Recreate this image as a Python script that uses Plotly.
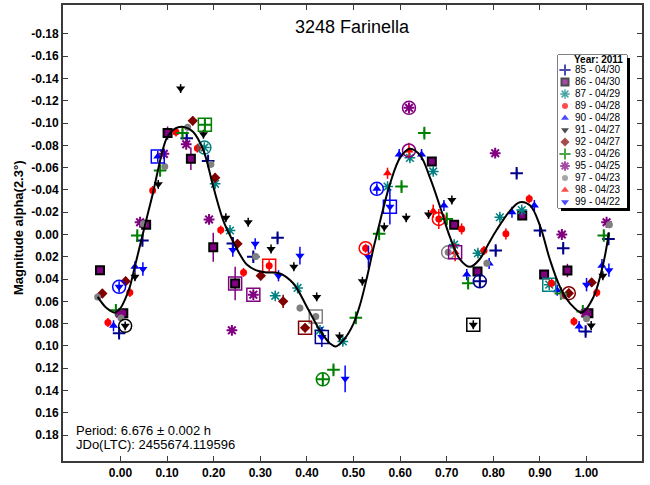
import plotly.graph_objects as go

W, H = 650, 485
FONT = "Arial, Liberation Sans, sans-serif"

# ---------------- session data (phase, magnitude, error) ----------------
ph_85 = [-0.003, 0.047, 0.142, 0.188, 0.241, 0.285, 0.337, 0.771, 0.805, 0.85, 0.90, 0.95, 0.998, 1.047]
mag_85 = [0.0886, 0.0054, -0.0865, -0.066, 0.008, 0.020, 0.003, 0.042, 0.0144, -0.055, -0.0036, 0.0123, 0.087, 0.004]
err_85 = [0.004, 0.004, 0.004, 0.004, 0.005, 0.004, 0.004, 0.005, 0.004, 0.004, 0.004, 0.004, 0.004, 0.004]

ph_86 = [-0.044, 0.006, 0.055, 0.101, 0.151, 0.199, 0.246, 0.668, 0.716, 0.766, 0.862, 0.909, 0.959, 1.004]
mag_86 = [0.032, 0.0706, -0.0087, -0.091, -0.068, 0.0114, 0.044, -0.0655, -0.0087, 0.0332, -0.017, 0.036, 0.0323, 0.0706]
err_86 = [0.004, 0.004, 0.004, 0.006, 0.010, 0.013, 0.015, 0.003, 0.003, 0.003, 0.003, 0.004, 0.006, 0.004]

ph_87 = [0.18, 0.203, 0.235, 0.332, 0.38, 0.428, 0.477, 0.573, 0.621, 0.671, 0.716, 0.767, 0.814, 0.861, 0.92]
mag_87 = [-0.078, -0.0455, -0.0036, 0.055, 0.048, 0.086, 0.096, -0.043, -0.0688, -0.0566, 0.009, 0.0168, -0.0155, -0.022, 0.045]
err_87 = [0.003] * 15

ph_89 = [-0.027, 0.02, 0.069, 0.119, 0.165, 0.215, 0.264, 0.319, 0.526, 0.683, 0.732, 0.78, 0.827, 0.877, 0.925, 0.973, 1.022]
mag_89 = [0.079, 0.052, -0.0395, -0.092, -0.0775, -0.004, 0.034, 0.028, 0.0123, -0.014, -0.005, 0.0144, -0.0006, -0.032, 0.0437, 0.078, 0.052]
err_89 = [0.004, 0.004, 0.004, 0.004, 0.004, 0.004, 0.004, 0.005, 0.004, 0.009, 0.005, 0.004, 0.005, 0.004, 0.004, 0.004, 0.004]

ph_90 = [-0.015, 0.031, 0.08, 0.55, 0.598, 0.646, 0.694, 0.743, 0.791, 0.84, 0.888, 0.937, 0.984, 1.033]
mag_90 = [0.082, 0.029, -0.070, -0.041, -0.0718, -0.0718, -0.026, 0.036, 0.026, -0.020, -0.026, 0.050, 0.0826, 0.028]
err_90 = [0.005, 0.005, 0.005, 0.005, 0.005, 0.005, 0.005, 0.005, 0.005, 0.005, 0.005, 0.005, 0.005, 0.006]

ph_91 = [0.01, 0.031, 0.081, 0.129, 0.178, 0.226, 0.274, 0.323, 0.372, 0.421, 0.47, 0.519, 0.566, 0.613, 0.661, 0.711, 0.757, 1.01, 1.035]
mag_91 = [0.082, 0.038, -0.045, -0.131, -0.090, -0.015, -0.011, 0.013, 0.029, 0.056, 0.0916, 0.042, -0.0066, -0.015, -0.018, -0.031, 0.081, 0.0817, 0.037]
err_91 = [0.004] * 19

ph_92 = [-0.039, 0.011, 0.155, 0.203, 0.251, 0.301, 0.349, 0.396, 0.962, 1.011]
mag_92 = [0.053, 0.042, -0.102, -0.051, 0.0084, 0.037, 0.060, 0.0838, 0.0527, 0.043]
err_92 = [0.004, 0.004, 0.004, 0.004, 0.004, 0.004, 0.006, 0.004, 0.004, 0.004]

ph_93 = [-0.01, 0.036, 0.085, 0.133, 0.181, 0.434, 0.457, 0.505, 0.555, 0.603, 0.652, 0.70, 0.746, 0.945, 0.992, 1.037]
mag_93 = [0.068, 0.001, -0.0575, -0.091, -0.0985, 0.130, 0.1215, 0.0748, -0.0006, -0.043, -0.091, -0.014, 0.0437, 0.053, 0.069, 0.0009]
err_93 = [0.004] * 16

ph_95 = [-0.001, 0.042, 0.093, 0.141, 0.19, 0.239, 0.285, 0.619, 0.804, 0.947, 0.997, 1.043]
mag_95 = [0.071, -0.011, -0.0724, -0.081, -0.0135, 0.086, 0.054, -0.1137, -0.073, 0.0, 0.0706, -0.011]
err_95 = [0.003] * 12

ph_97 = [-0.049, 0.001, 0.049, 0.095, 0.144, 0.194, 0.29, 0.385, 0.419, 0.703, 0.786, 0.95, 1.0, 1.049]
mag_97 = [0.056, 0.075, -0.0096, -0.061, -0.0963, -0.063, 0.0197, 0.066, 0.0736, 0.016, 0.0257, 0.055, 0.0757, -0.0087]
err_97 = [0.003] * 14

ph_98 = [0.573, 0.619, 0.671, 0.718]
mag_98 = [-0.055, -0.0754, -0.021, 0.016]
err_98 = [0.005, 0.007, 0.006, 0.008]

ph_99 = [-0.003, 0.048, 0.241, 0.289, 0.339, 0.385, 0.432, 0.482, 0.532, 0.578, 1.0, 1.048]
mag_99 = [0.047, 0.031, 0.014, 0.0084, 0.037, 0.019, 0.092, 0.1295, 0.020, -0.025, 0.045, 0.032]
err_99 = [0.005, 0.006, 0.006, 0.005, 0.005, 0.008, 0.009, 0.012, 0.010, 0.016, 0.006, 0.006]

# first point of each night, ringed
hl_session = ["91", "99", "90", "87", "93", "86", "95", "89", "97", "92", "99", "93",
              "89", "90", "99", "95", "98", "89", "97", "98", "91", "85", "87", "92"]
hl_phase = [0.01, -0.003, 0.08, 0.18, 0.181, 0.246, 0.285, 0.319, 0.419, 0.396, 0.432, 0.434,
            0.526, 0.55, 0.578, 0.619, 0.619, 0.683, 0.703, 0.718, 0.757, 0.771, 0.92, 0.962]
hl_mag = [0.082, 0.047, -0.070, -0.078, -0.0985, 0.044, 0.054, 0.028, 0.0736, 0.0838, 0.092, 0.130,
          0.0123, -0.041, -0.025, -0.1137, -0.0754, -0.014, 0.016, 0.016, 0.081, 0.042, 0.045, 0.0527]
hl_shape = ["circle", "circle", "square", "circle", "square", "square", "square", "square", "square",
            "square", "square", "circle", "circle", "circle", "square", "circle", "circle", "circle",
            "circle", "square", "square", "circle", "square", "circle"]

# Fourier fit curve
fit_phase = [-0.049, -0.03, -0.012, 0.0, 0.01, 0.02, 0.03, 0.04, 0.05, 0.06, 0.07, 0.08, 0.09, 0.10,
             0.117, 0.135, 0.156, 0.178, 0.199, 0.221, 0.24, 0.255, 0.271, 0.29, 0.31, 0.342, 0.371,
             0.40, 0.428, 0.45, 0.462, 0.48, 0.50, 0.514, 0.528, 0.543, 0.557, 0.578, 0.60, 0.621,
             0.643, 0.664, 0.686, 0.707, 0.728, 0.75, 0.771, 0.79, 0.807, 0.836, 0.857, 0.879, 0.90,
             0.921, 0.943, 0.965, 0.99, 1.015, 1.036, 1.048]
fit_mag = [0.056, 0.066, 0.070, 0.066, 0.058, 0.047, 0.030, 0.013, -0.004, -0.021, -0.038, -0.057,
           -0.075, -0.087, -0.095, -0.0965, -0.092, -0.0754, -0.043, -0.012, 0.005, 0.017, 0.027,
           0.032, 0.034, 0.035, 0.044, 0.065, 0.086, 0.098, 0.1005, 0.094, 0.080, 0.063, 0.040,
           0.012, -0.012, -0.045, -0.069, -0.077, -0.071, -0.051, -0.0245, 0.0024, 0.022, 0.029,
           0.022, 0.008, -0.004, -0.0215, -0.029, -0.026, -0.008, 0.022, 0.047, 0.062, 0.070,
           0.056, 0.026, -0.002]

sessions = ["85", "86", "87", "89", "90", "91", "92", "93", "95", "97", "98", "99"]
session_dates = ["04/30", "04/30", "04/29", "04/28", "04/28", "04/27", "04/27", "04/26",
                 "04/25", "04/23", "04/23", "04/22"]
y_ticks = [-0.18, -0.16, -0.14, -0.12, -0.10, -0.08, -0.06, -0.04, -0.02, 0.0,
           0.02, 0.04, 0.06, 0.08, 0.10, 0.12, 0.14, 0.16, 0.18]
x_ticks = [0.0, 0.1, 0.2, 0.3, 0.4, 0.5, 0.6, 0.7, 0.8, 0.9, 1.0]

DATA = {
    "85": (ph_85, mag_85, err_85), "86": (ph_86, mag_86, err_86), "87": (ph_87, mag_87, err_87),
    "89": (ph_89, mag_89, err_89), "90": (ph_90, mag_90, err_90), "91": (ph_91, mag_91, err_91),
    "92": (ph_92, mag_92, err_92), "93": (ph_93, mag_93, err_93), "95": (ph_95, mag_95, err_95),
    "97": (ph_97, mag_97, err_97), "98": (ph_98, mag_98, err_98), "99": (ph_99, mag_99, err_99),
}

# ---------------- marker styles ----------------
STYLE = {
    "85": dict(symbol="cross-thin-open", color="#00008B", line="#00008B", size=9, lw=2),
    "86": dict(symbol="square", color="#800080", line="#000000", size=8, lw=2),
    "87": dict(symbol="asterisk-open", color="#008080", line="#008080", size=9, lw=1.5),
    "89": dict(symbol="circle", color="#FF0000", line="#FF0000", size=7, lw=0),
    "90": dict(symbol="triangle-up", color="#0000FF", line="#0000FF", size=8, lw=0),
    "91": dict(symbol="triangle-down", color="#000000", line="#000000", size=8, lw=0),
    "92": dict(symbol="diamond", color="#800000", line="#800000", size=8, lw=0),
    "93": dict(symbol="cross-thin-open", color="#008000", line="#008000", size=9, lw=2),
    "95": dict(symbol="asterisk-open", color="#800080", line="#800080", size=9, lw=2),
    "97": dict(symbol="circle", color="#808080", line="#808080", size=7, lw=0),
    "98": dict(symbol="triangle-up", color="#FF0000", line="#FF0000", size=8, lw=0),
    "99": dict(symbol="triangle-down", color="#0000FF", line="#0000FF", size=8, lw=0),
}
RING_COLOR = {"98": "#800080"}
RING_COLOR_AT = {0.432: "#000080"}

# plot frame in pixels
L, R, T, B = 63, 642, 5, 461
def px(x):
    return x / W
def py(y):
    return 1 - y / H

fig = go.Figure()

for s in sessions:
    ph, mg, er = DATA[s]
    st = STYLE[s]
    fig.add_trace(go.Scatter(
        x=ph, y=mg, mode="markers", showlegend=False, hoverinfo="skip",
        error_y=dict(type="data", array=er, color=st["color"], thickness=1.5, width=0),
        marker=dict(symbol=st["symbol"], size=st["size"], color=st["color"],
                    line=dict(color=st["line"], width=st["lw"])),
    ))

ring_colors = []
for s, p in zip(hl_session, hl_phase):
    c = RING_COLOR_AT.get(p, RING_COLOR.get(s, STYLE[s]["color"]))
    ring_colors.append(c)
fig.add_trace(go.Scatter(
    x=hl_phase, y=hl_mag, mode="markers", showlegend=False, hoverinfo="skip",
    marker=dict(symbol=[sh + "-open" for sh in hl_shape], size=13, color=ring_colors,
                line=dict(color=ring_colors, width=1.5)),
))

fig.add_trace(go.Scatter(
    x=fit_phase, y=fit_mag, mode="lines", showlegend=False, hoverinfo="skip",
    line=dict(color="black", width=2, shape="spline", smoothing=1),
))

# ---------------- legend box (drawn on its own small axes) ----------------
LG_L, LG_R, LG_T, LG_B = 558, 627, 55, 208
n = len(sessions)
leg_y = [15 + 12 * k for k in range(n)]
fig.add_trace(go.Scatter(
    x=[7] * n, y=leg_y, mode="markers", xaxis="x3", yaxis="y3",
    showlegend=False, hoverinfo="skip",
    marker=dict(symbol=[STYLE[s]["symbol"] for s in sessions],
                size=[STYLE[s]["size"] - 1 for s in sessions],
                color=[STYLE[s]["color"] for s in sessions],
                line=dict(color=[STYLE[s]["line"] for s in sessions],
                          width=[STYLE[s]["lw"] for s in sessions])),
))
fig.add_trace(go.Scatter(
    x=[17] * n, y=leg_y, mode="text", xaxis="x3", yaxis="y3",
    showlegend=False, hoverinfo="skip",
    text=[f"{s} - {d}" for s, d in zip(sessions, session_dates)],
    textposition="middle right",
    textfont=dict(family=FONT, size=10, color="black"),
))

shapes = [
    dict(type="rect", xref="paper", yref="paper", x0=px(LG_L + 3), x1=px(LG_R + 3),
         y0=py(LG_B + 3), y1=py(LG_T + 3), fillcolor="#000000", line=dict(width=0), layer="below"),
    dict(type="rect", xref="paper", yref="paper", x0=px(LG_L), x1=px(LG_R),
         y0=py(LG_B), y1=py(LG_T), fillcolor="white", line=dict(color="black", width=1), layer="below"),
]

annotations = [
    dict(text="3248 Farinella", x=px(352), y=py(27), xref="paper", yref="paper",
         showarrow=False, font=dict(family=FONT, size=18, color="black"),
         xanchor="center", yanchor="middle"),
    dict(text="Magnitude alpha(2.3°)", x=px(18), y=py(228), xref="paper", yref="paper",
         showarrow=False, textangle=-90, font=dict(family=FONT, size=13, color="black", weight="bold"),
         xanchor="center", yanchor="middle"),
    dict(text="Period: 6.676 ± 0.002 h", x=px(74), y=py(430), xref="paper", yref="paper",
         showarrow=False, font=dict(family=FONT, size=13, color="black"),
         xanchor="left", yanchor="middle"),
    dict(text="JDo(LTC): 2455674.119596", x=px(74), y=py(444), xref="paper", yref="paper",
         showarrow=False, font=dict(family=FONT, size=13, color="black"),
         xanchor="left", yanchor="middle"),
    dict(text="<b>Year: 2011</b>", x=px(LG_R - 2), y=py(LG_T + 4), xref="paper", yref="paper",
         showarrow=False, font=dict(family=FONT, size=10, color="black"),
         xanchor="right", yanchor="middle"),
]

axis_common = dict(showgrid=False, zeroline=False, showline=True, linecolor="#3a3a3a",
                   linewidth=2, ticks="inside", ticklen=5, tickwidth=1, tickcolor="#3a3a3a",
                   mirror="ticks",
                   tickfont=dict(family=FONT, size=12, color="black", weight="bold"))

fig.update_layout(
    width=W, height=H, margin=dict(l=0, r=0, t=0, b=0),
    paper_bgcolor="white", plot_bgcolor="white", showlegend=False,
    xaxis=dict(domain=[px(L), px(R)], range=[-0.1234, 1.119], tickmode="array",
               tickvals=x_ticks, ticktext=[f"{v:.2f}" for v in x_ticks], **axis_common),
    yaxis=dict(domain=[py(B), py(T)], range=[0.2033, -0.206], tickmode="array",
               tickvals=y_ticks, ticktext=[f"{v:.2f}" for v in y_ticks], **axis_common),
    xaxis3=dict(domain=[px(LG_L), px(LG_R)], range=[0, LG_R - LG_L], visible=False,
                anchor="y3", fixedrange=True),
    yaxis3=dict(domain=[py(LG_B), py(LG_T)], range=[LG_B - LG_T, 0], visible=False,
                anchor="x3", fixedrange=True),
    shapes=shapes, annotations=annotations,
)

fig.write_html("out.html")
